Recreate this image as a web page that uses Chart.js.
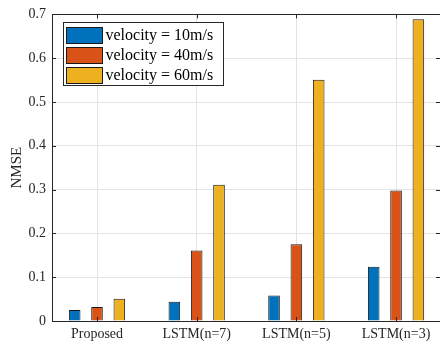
<!DOCTYPE html>
<html>
<head>
<meta charset="utf-8">
<script src="https://cdn.jsdelivr.net/npm/chart.js@4.4.1/dist/chart.umd.min.js"></script>
<style>
  html, body { margin: 0; padding: 0; background: #ffffff; }
  #wrap { width: 440px; height: 341px; position: relative; }
</style>
</head>
<body>
<div id="wrap"><canvas id="c" width="440" height="341"></canvas></div>
<script>
const categories = ['Proposed', 'LSTM(n=7)', 'LSTM(n=5)', 'LSTM(n=3)'];
const seriesLabels = ['velocity = 10m/s', 'velocity = 40m/s', 'velocity = 60m/s'];
const v10 = [0.025, 0.044, 0.058, 0.124];
const v40 = [0.032, 0.161, 0.175, 0.298];
const v60 = [0.051, 0.311, 0.551, 0.689];
const yTicks = [0, 0.1, 0.2, 0.3, 0.4, 0.5, 0.6, 0.7];
const colors = ['#0072BD', '#D95319', '#EDB120'];

const FONT = "'Liberation Serif', 'Times New Roman', serif";
const AXIS = '#262626';

function toPoints(arr) { return arr.map((y, i) => ({ x: i + 1, y: y })); }

const boxPlugin = {
  id: 'boxPlugin',
  afterDatasetsDraw(chart) {
    const ctx = chart.ctx;
    const a = chart.chartArea;
    const xs = chart.scales.x, ys = chart.scales.y;
    ctx.save();
    ctx.strokeStyle = AXIS;
    ctx.lineWidth = 1;
    ctx.beginPath();
    ctx.moveTo(a.left, Math.round(a.top) + 0.5);
    ctx.lineTo(a.right, Math.round(a.top) + 0.5);
    ctx.stroke();
    ctx.beginPath();
    yTicks.forEach(v => {
      const py = Math.round(ys.getPixelForValue(v)) + 0.5;
      ctx.moveTo(a.left, py); ctx.lineTo(a.left + 4, py);
      ctx.moveTo(a.right - 4, py); ctx.lineTo(a.right, py);
    });
    categories.forEach((c, i) => {
      const px = Math.round(xs.getPixelForValue(i + 1)) + 0.5;
      ctx.moveTo(px, a.bottom); ctx.lineTo(px, a.bottom - 4);
      ctx.moveTo(px, a.top); ctx.lineTo(px, a.top + 4);
    });
    ctx.stroke();
    ctx.restore();
  },
  afterDraw(chart) {
    const ctx = chart.ctx;
    ctx.save();
    const bx = 63.5, by = 22.5, bw = 160, bh = 63;
    ctx.fillStyle = '#ffffff';
    ctx.fillRect(bx, by, bw, bh);
    ctx.strokeStyle = AXIS;
    ctx.lineWidth = 1;
    ctx.strokeRect(bx, by, bw, bh);
    ctx.font = '16px ' + FONT;
    ctx.textBaseline = 'middle';
    ctx.textAlign = 'left';
    chart.data.datasets.forEach((ds, i) => {
      const ty = 27 + i * 20;
      ctx.fillStyle = ds.backgroundColor;
      ctx.fillRect(66.5, ty + 0.5, 36, 16);
      ctx.strokeStyle = '#1a1a1a';
      ctx.strokeRect(66.5, ty + 0.5, 36, 16);
      ctx.fillStyle = '#000000';
      ctx.fillText(ds.label, 105.5, ty + 8.5);
    });
    ctx.restore();
  }
};

new Chart(document.getElementById('c'), {
  type: 'bar',
  data: {
    datasets: [v10, v40, v60].map((arr, i) => ({
      label: seriesLabels[i],
      data: toPoints(arr),
      backgroundColor: colors[i],
      borderColor: '#1a1a1a',
      borderWidth: 1,
      categoryPercentage: 0.672,
      barPercentage: 0.52
    }))
  },
  options: {
    responsive: false,
    animation: false,
    devicePixelRatio: 1,
    layout: { padding: { top: 14, right: 0, left: 0, bottom: 0 } },
    plugins: { legend: { display: false }, tooltip: { enabled: false } },
    scales: {
      x: {
        type: 'linear',
        offset: false,
        min: 0.5485,
        max: 4.441,
        afterBuildTicks(axis) { axis.ticks = categories.map((c, i) => ({ value: i + 1 })); },
        afterFit(axis) { axis.height = 20; },
        grid: { color: '#e3e3e3', drawTicks: false, offset: false },
        border: { color: AXIS, width: 1 },
        ticks: {
          color: AXIS,
          font: { family: FONT, size: 14 },
          padding: 5,
          maxRotation: 0,
          autoSkip: false,
          callback: (v) => categories[Math.round(v) - 1] || ''
        }
      },
      y: {
        min: 0,
        max: 0.7,
        afterBuildTicks(axis) { axis.ticks = yTicks.map(v => ({ value: v })); },
        afterFit(axis) { axis.width = 52; },
        grid: { color: '#e3e3e3', drawTicks: false },
        border: { color: AXIS, width: 1 },
        title: {
          display: true,
          text: 'NMSE',
          color: AXIS,
          font: { family: FONT, size: 15 },
          padding: { top: 8, bottom: 0 }
        },
        ticks: {
          color: AXIS,
          font: { family: FONT, size: 14 },
          padding: 6,
          callback: (v) => (v === 0 ? '0' : v.toFixed(1))
        }
      }
    }
  },
  plugins: [boxPlugin]
});
</script>
</body>
</html>
